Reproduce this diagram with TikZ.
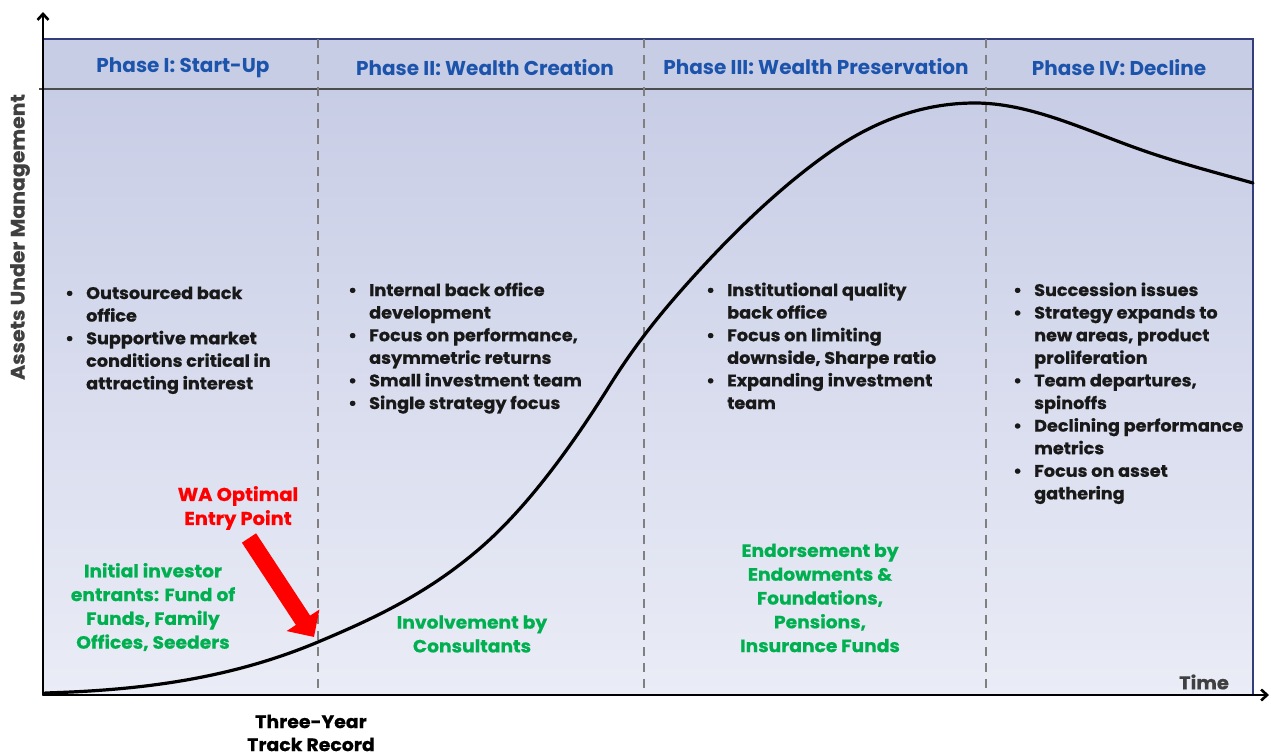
\documentclass[tikz,border=0pt]{standalone}
\usepackage{fontspec}
\setmainfont{Poppins}
\newfontfamily\heavyfont{Poppins}[FakeStretch=1.05, BoldFeatures={FakeBold=0.6}]
\usetikzlibrary{arrows.meta}

\definecolor{phaseblue}{RGB}{28,84,172}
\definecolor{notegreen}{RGB}{0,176,80}
\definecolor{framenavy}{RGB}{52,62,122}
\definecolor{bgtop}{RGB}{200,205,230}
\definecolor{bgbot}{RGB}{234,236,246}
\definecolor{divider}{RGB}{128,128,128}
\definecolor{axislabel}{RGB}{64,64,64}

\newcommand{\bulletlist}[1]{%
  \begin{tabular}[t]{@{}p{21pt}@{}l@{}}#1\end{tabular}}

\begin{document}
\begin{tikzpicture}[x=1pt,y=-1pt,
  phase/.style={font=\fontsize{20}{24}\selectfont\bfseries, text=phaseblue, inner sep=0pt},
  bullets/.style={anchor=base west, inner sep=0pt, text=black!90,
    font=\heavyfont\fontsize{16.8}{22.6}\selectfont\bfseries},
  greennote/.style={align=center, text=notegreen, inner sep=0pt,
    font=\heavyfont\fontsize{17.8}{23.8}\selectfont\bfseries},
  phasedivider/.style={divider, line width=2pt, dash pattern=on 9pt off 7pt},
  axisline/.style={black, line width=2.6pt, -{Straight Barb[length=6pt,width=11pt]}},
]
\useasboundingbox (0,0) rectangle (1271,755);

% plot background: flat header band, graded body
\fill[bgtop] (43,39) rectangle (1253,89);
\shade[top color=bgtop, bottom color=bgbot] (43,89) rectangle (1253,695);
\draw[framenavy, line width=1.2pt] (43,39) rectangle (1253,695);
\draw[black!70, line width=1.2pt] (39,89) -- (1253,89);

% phase boundaries
\foreach \xx/\nm in {318/dA, 644/dB, 986/dC} {
  \coordinate (\nm top) at (\xx,39);
  \coordinate (\nm bot) at (\xx,695);
  \draw[phasedivider] (\nm top) -- (\nm bot);
}

% phase titles
\node[phase] (p1) at (183,68) {Phase I: Start-Up};
\node[phase] (p2) at (485,68) {Phase II: Wealth Creation};
\node[phase] (p3) at (816,67) {Phase III: Wealth Preservation};
\node[phase] (p4) at (1119,68) {Phase IV: Decline};

% lifecycle curve (Hermite pieces written as Bezier segments)
\draw[black, line width=3.2pt, line cap=round]
  (45,693)
  .. controls (136,690.3) and (227,680.2) .. (318,642)
  .. controls (371.3,619.6) and (424.7,595.3) .. (478,550)
  .. controls (522,512.6) and (566,455.4) .. (610,385)
  .. controls (638.3,339.7) and (666.7,306.1) .. (695,275)
  .. controls (740,225.5) and (785,183.5) .. (830,152)
  .. controls (878.3,118.2) and (926.7,103) .. (975,103)
  .. controls (1028.7,103) and (1082.3,128.7) .. (1136,148)
  .. controls (1175,162) and (1214,172.1) .. (1253,183);

% axes
\coordinate (origin) at (43,695);
\coordinate (ytip) at (43,12);
\coordinate (xtip) at (1269,695);
\draw[axisline] (origin) -- (ytip);
\draw[axisline] (origin) -- (xtip);

\node[rotate=90, text=axislabel, inner sep=0pt,
  font=\heavyfont\fontsize{19.5}{22}\selectfont\bfseries] (ylab) at (20,237) {Assets Under Management};
\node[text=axislabel, inner sep=0pt,
  font=\heavyfont\fontsize{18.5}{22}\selectfont\bfseries] (tlab) at (1204,682) {Time};

% characteristics of each phase
\node[bullets] (b1) at (65,299) {\bulletlist{%
  \textbullet & Outsourced back\\
              & office\\
  \textbullet & Supportive market\\
              & conditions critical in\\
              & attracting interest}};
\node[bullets] (b2) at (348,296) {\bulletlist{%
  \textbullet & Internal back office\\
              & development\\
  \textbullet & Focus on performance,\\
              & asymmetric returns\\
  \textbullet & Small investment team\\
  \textbullet & Single strategy focus}};
\node[bullets] (b3) at (706,296) {\bulletlist{%
  \textbullet & Institutional quality\\
              & back office\\
  \textbullet & Focus on limiting\\
              & downside, Sharpe ratio\\
  \textbullet & Expanding investment\\
              & team}};
\node[bullets] (b4) at (1013,296) {\bulletlist{%
  \textbullet & Succession issues\\
  \textbullet & Strategy expands to\\
              & new areas, product\\
              & proliferation\\
  \textbullet & Team departures,\\
              & spinoffs\\
  \textbullet & Declining performance\\
              & metrics\\
  \textbullet & Focus on asset\\
              & gathering}};

% investor groups
\node[greennote] (g1) at (153,607) {Initial investor\\entrants: Fund of\\Funds, Family\\Offices, Seeders};
\node[greennote] (g2) at (472,634) {Involvement by\\Consultants};
\node[greennote] (g3) at (820,598) {Endorsement by\\Endowments \&\\Foundations,\\Pensions,\\Insurance Funds};

% optimal entry point
\node[align=center, text=red, inner sep=0pt,
  font=\heavyfont\fontsize{18.5}{24}\selectfont\bfseries] (entry) at (238,508) {WA Optimal\\Entry Point};
\coordinate (entryTail) at (249,538);
\coordinate (entryTip) at (314,637);
\draw[red, line width=17pt, -{Triangle[length=20pt,width=38pt]}] (entryTail) -- (entryTip);

% track record marker
\node[align=center, text=black, inner sep=0pt,
  font=\heavyfont\fontsize{18}{23}\selectfont\bfseries] (track) at (311,733) {Three-Year\\Track Record};
\end{tikzpicture}
\end{document}
